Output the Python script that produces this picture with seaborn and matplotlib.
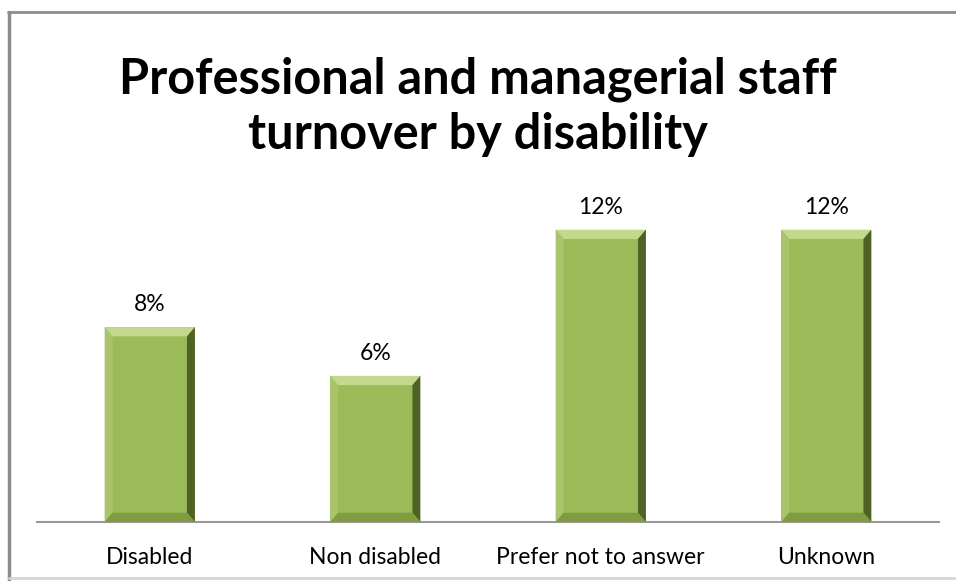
import numpy as np
import pandas as pd
import seaborn as sns
import matplotlib.pyplot as plt
from matplotlib.patches import Polygon
from matplotlib.lines import Line2D

# dati
categories = ["Disabled", "Non disabled", "Prefer not to answer", "Unknown"]
turnover = [8, 6, 12, 12]
labels = ["8%", "6%", "12%", "12%"]

df = pd.DataFrame({"categoria": categories, "turnover": turnover})

sns.set_theme(style="white")
plt.rcParams["font.family"] = ["Lato", "DejaVu Sans"]

fig = plt.figure(figsize=(9.56, 5.81), dpi=100)
ax = fig.add_axes([37 / 956, 59 / 581, 902 / 956, 341 / 581])

sns.barplot(data=df, x="categoria", y="turnover", color="#9bbb59",
            width=0.4, saturation=1, ax=ax)

ax.set_ylim(0, 14)
ax.set_xlim(-0.5, 3.5)

# effetto bisello sulle barre
bev_x = 0.035
bev_y = 0.38
for p in ax.patches[:]:
    x0, y0 = p.get_x(), p.get_y()
    w, h = p.get_width(), p.get_height()
    x1, y1 = x0 + w, y0 + h
    p.set_edgecolor("none")
    # top bevel (chiaro)
    ax.add_patch(Polygon([[x0, y1], [x1, y1], [x1 - bev_x, y1 - bev_y], [x0 + bev_x, y1 - bev_y]],
                         closed=True, facecolor="#c2d98c", edgecolor="none", zorder=3))
    # lato sinistro
    ax.add_patch(Polygon([[x0, y0], [x0, y1], [x0 + bev_x, y1 - bev_y], [x0 + bev_x, y0 + bev_y]],
                         closed=True, facecolor="#a9c46b", edgecolor="none", zorder=3))
    # lato destro (scuro)
    ax.add_patch(Polygon([[x1, y0], [x1, y1], [x1 - bev_x, y1 - bev_y], [x1 - bev_x, y0 + bev_y]],
                         closed=True, facecolor="#4d6224", edgecolor="none", zorder=3))
    # base
    ax.add_patch(Polygon([[x0, y0], [x1, y0], [x1 - bev_x, y0 + bev_y], [x0 + bev_x, y0 + bev_y]],
                         closed=True, facecolor="#7f9c40", edgecolor="none", zorder=3))

# etichette sopra le barre
for i, (v, lab) in enumerate(zip(turnover, labels)):
    ax.text(i, v + 0.5, lab, ha="center", va="bottom", fontsize=16.5, color="black")

sns.despine(ax=ax, left=True, top=True, right=True)
ax.spines["bottom"].set_color("#999999")
ax.spines["bottom"].set_linewidth(1.5)
ax.set_yticks([])
ax.set_xlabel("")
ax.set_ylabel("")
ax.tick_params(axis="x", length=0, pad=18, labelsize=16.5, labelcolor="black")

fig.suptitle("Professional and managerial staff\nturnover by disability",
             x=0.5, y=1 - 57 / 581, fontsize=35, fontweight="bold",
             va="top", linespacing=1.25, color="black")

# cornice del grafico
fig.add_artist(Line2D([8 / 956, 1], [1 - 12 / 581, 1 - 12 / 581], color="#8c8c8c", lw=2))
fig.add_artist(Line2D([9 / 956, 9 / 956], [0, 1 - 12 / 581], color="#8c8c8c", lw=2.5))
fig.add_artist(Line2D([9 / 956, 1], [3 / 581, 3 / 581], color="#d6d6d6", lw=2))

fig.savefig("out.png", dpi=100)
